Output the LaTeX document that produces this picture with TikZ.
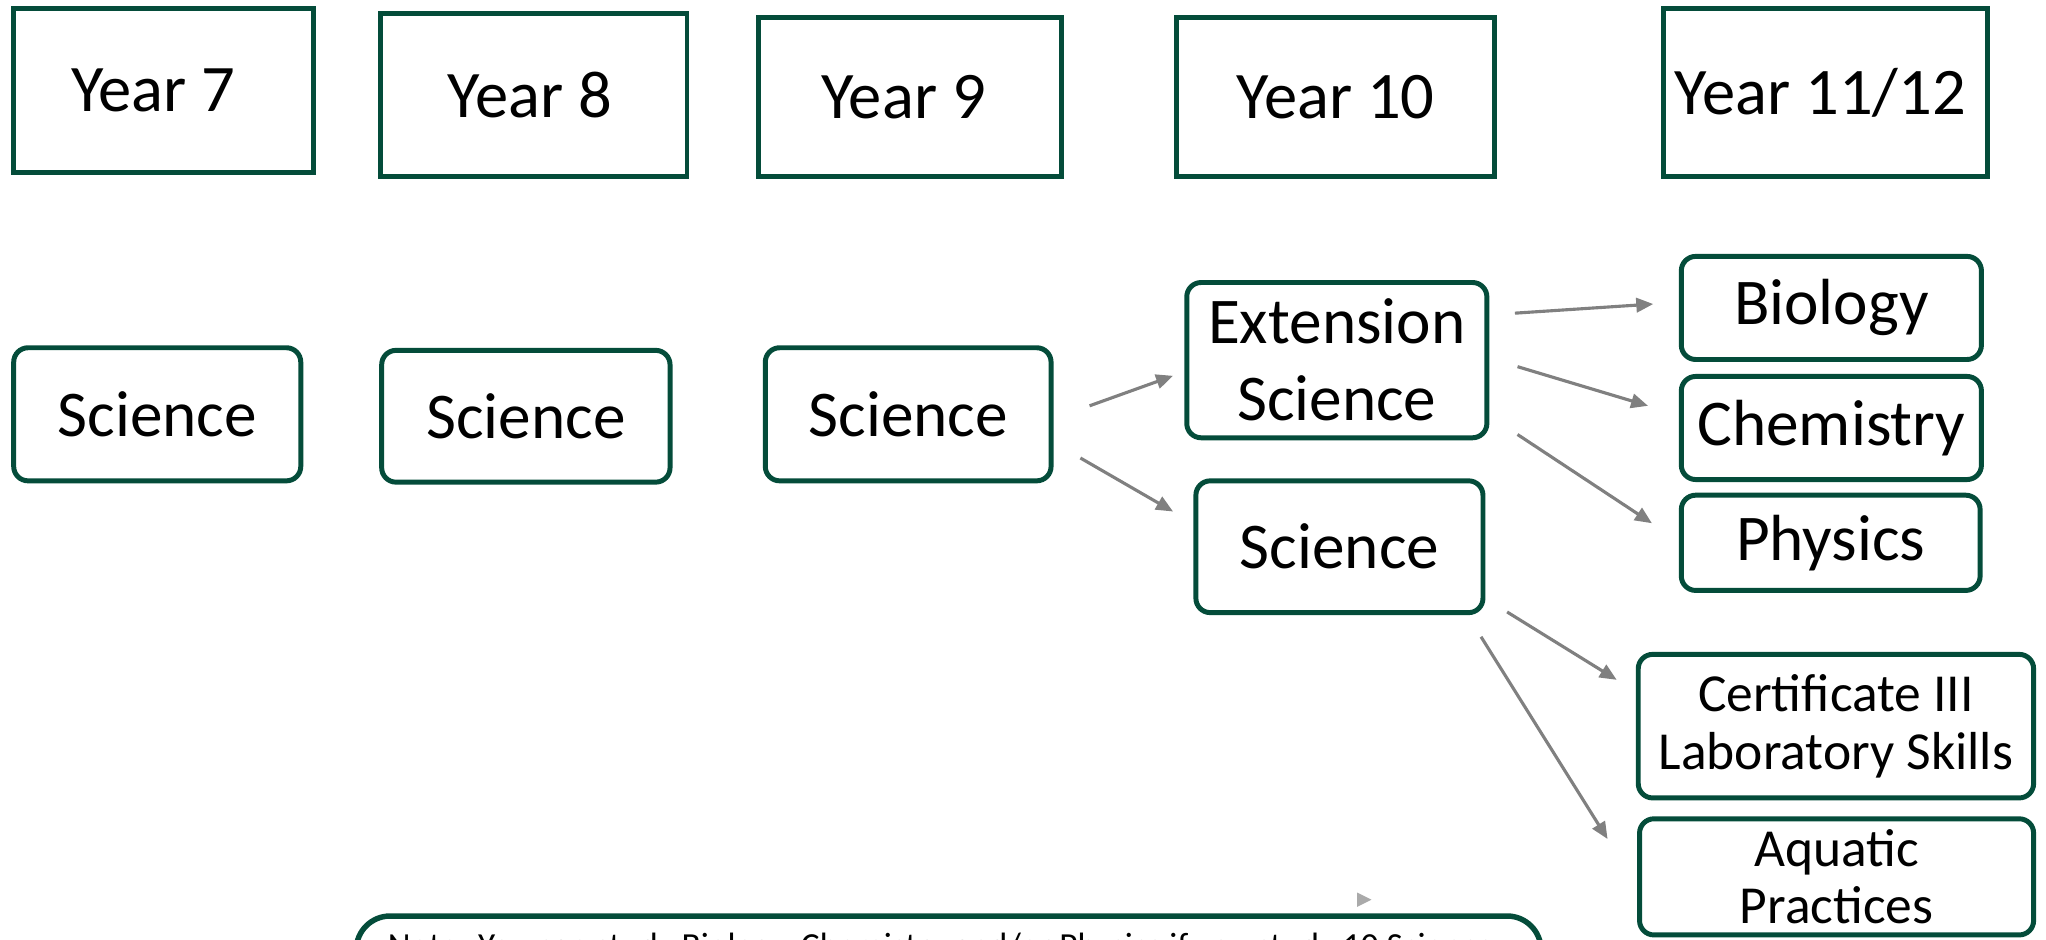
\documentclass[tikz,border=0pt]{standalone}
\usepackage{fontspec}
\setmainfont{Carlito}
\usetikzlibrary{arrows.meta}
\definecolor{dgreen}{RGB}{4,76,58}
\definecolor{agrey}{RGB}{128,128,128}
\definecolor{lgrey}{RGB}{170,170,170}
\begin{document}
\begin{tikzpicture}[x=1pt,y=-1pt,
  yearbox/.style={draw=dgreen,line width=3.8pt,inner sep=0pt,font=\fontsize{51}{60}\selectfont},
  subj/.style={draw=dgreen,line width=3.8pt,rounded corners=11pt,inner sep=0pt,align=center,font=\fontsize{50}{59}\selectfont},
  small/.style={draw=dgreen,line width=3.8pt,rounded corners=11pt,inner sep=0pt,align=center,font=\fontsize{41}{44}\selectfont},
  conn/.style={draw=agrey,line width=2.4pt,-{Triangle[length=13pt,width=11pt]}}]
\useasboundingbox (0,0) rectangle (1568,720);
\clip (0,0) rectangle (1568,720);
% header boxes
\node[yearbox,minimum width=230pt,minimum height=126pt] (y7) at (125.5,69.5) {Year 7\hspace*{16pt}};
\node[yearbox,minimum width=235pt,minimum height=125pt] (y8) at (409,73) {Year 8\hspace*{6pt}};
\node[yearbox,minimum width=232pt,minimum height=122pt] (y9) at (697.5,74.5) {Year 9\hspace*{10pt}};
\node[yearbox,minimum width=244pt,minimum height=122pt] (y10) at (1023.5,74.5) {Year 10};
\node[yearbox,minimum width=249pt,minimum height=129pt] (y11) at (1399,71) {Year 11/12\hspace*{8pt}};
% subject boxes
\node[subj,minimum width=220pt,minimum height=102pt] (s7) at (120.5,317.5) {Science};
\node[subj,minimum width=221pt,minimum height=101pt] (s8) at (403,319) {Science};
\node[subj,minimum width=219pt,minimum height=102pt] (s9) at (696,317.5) {Science};
\node[subj,minimum width=230pt,minimum height=119pt] (ext) at (1024.5,276) {Extension\\Science};
\node[subj,minimum width=220pt,minimum height=101pt] (s10) at (1026.5,419) {Science};
\node[subj,minimum width=230pt,minimum height=79pt] (bio) at (1403.5,236) {Biology};
\node[subj,minimum width=230pt,minimum height=79pt] (chem) at (1403.5,328) {Chemistry};
\node[subj,minimum width=229pt,minimum height=73pt] (phys) at (1403,416) {Physics};
\node[small,minimum width=303pt,minimum height=110pt] (cert) at (1407,556.5) {Certificate III\\Laboratory Skills};
\node[small,minimum width=302pt,minimum height=89pt] (aqua) at (1407.5,672) {Aquatic\\Practices};
% note box
\draw[dgreen,line width=4.2pt,rounded corners=26pt] (273,702) rectangle (1181,790);
\node[anchor=base west,inner sep=0pt,font=\fontsize{27}{32}\selectfont] (note) at (297,734) {Note: You can study Biology, Chemistry and/or Physics if you study 10 Science};
% connector end points
\coordinate (a1s) at (835,311); \coordinate (a1e) at (899,288);
\coordinate (a2s) at (828,351); \coordinate (a2e) at (899,392);
\coordinate (a3s) at (1161,240); \coordinate (a3e) at (1267,233);
\coordinate (a4s) at (1163,281); \coordinate (a4e) at (1263,311);
\coordinate (a5s) at (1163,333); \coordinate (a5e) at (1266,401);
\coordinate (a6s) at (1155,469); \coordinate (a6e) at (1239,521);
\coordinate (a7s) at (1135,488); \coordinate (a7e) at (1232,643);
\draw[conn] (a1s) -- (a1e);
\draw[conn] (a2s) -- (a2e);
\draw[conn] (a3s) -- (a3e);
\draw[conn] (a4s) -- (a4e);
\draw[conn] (a5s) -- (a5e);
\draw[conn] (a6s) -- (a6e);
\draw[conn] (a7s) -- (a7e);
% stray arrow head
\coordinate (tip) at (1051,689.5);
\fill[lgrey] (1040,684) -- (tip) -- (1040,695) -- cycle;
\end{tikzpicture}
\end{document}
